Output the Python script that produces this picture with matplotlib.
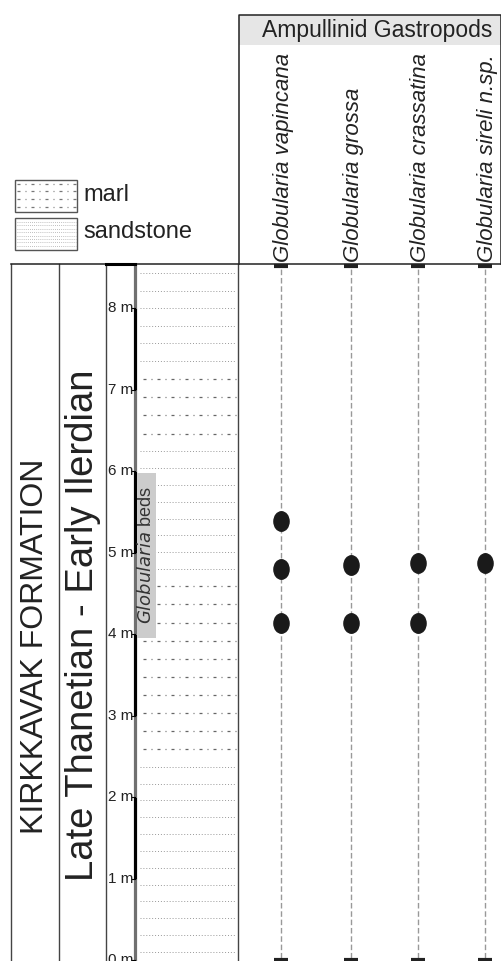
import numpy as np
import matplotlib
matplotlib.use("Agg")
import matplotlib.pyplot as plt
from matplotlib.path import Path
from matplotlib.transforms import Affine2D
from matplotlib.patches import Rectangle

plt.rcParams['font.family'] = ['Liberation Sans', 'DejaVu Sans']

# ---------------- data ----------------
group_title = "Ampullinid Gastropods"
species = ["Globularia vapincana", "Globularia grossa",
           "Globularia crassatina", "Globularia sireli n.sp."]
occ_vapincana = [5.39, 4.80, 4.14]
occ_grossa = [4.85, 4.14]
occ_crassatina = [4.88, 4.14]
occ_sireli = [4.88]
occurrences = [occ_vapincana, occ_grossa, occ_crassatina, occ_sireli]

depth_ticks = [0, 1, 2, 3, 4, 5, 6, 7, 8]
depth_labels = [f"{d} m" for d in depth_ticks]

# lithology units: bottom (m), top (m), kind
lith_bottom = [0.0, 2.48, 4.70, 6.35, 7.25]
lith_top = [2.48, 4.70, 6.35, 7.25, 8.54]
lith_kind = ["sandstone", "marl", "sandstone", "marl", "sandstone"]

beds_bottom, beds_top = 3.96, 5.98
formation = "KIRKKAVAK FORMATION"
stage = "Late Thanetian - Early Ilerdian"

# ---------------- layout ----------------
W, H = 502, 961
ZERO_PX, PX_PER_M = 960.4, 81.5
TOP_PX = 264
def px2m(p):
    return (ZERO_PX - p) / PX_PER_M

fig = plt.figure(figsize=(W / 100, H / 100), dpi=100)
ax = fig.add_axes([0, 0, 1, (H - TOP_PX) / H])
ax.set_xlim(0, W)
ax.set_ylim(px2m(H), px2m(TOP_PX))
ax.axis('off')

hx = fig.add_axes([0, (H - TOP_PX) / H, 1, TOP_PX / H])
hx.set_xlim(0, W)
hx.set_ylim(TOP_PX, 0)
hx.axis('off')

ytop = px2m(TOP_PX)
ybot = px2m(H + 2)
col_x = [281, 351, 418, 485]

# ---- header box ----
hx.add_patch(Rectangle((239, 15), 262, 30, facecolor='#e6e6e6', edgecolor='none'))
hx.plot([239, 239, 501, 501], [TOP_PX, 15, 15, TOP_PX], color='#222222', lw=1.1, clip_on=False)
hx.text(377, 31, group_title, ha='center', va='center', fontsize=16.5, color='#222222')
for x, name in zip(col_x, species):
    hx.text(x + 3, 262, name, rotation=90, ha='center', va='bottom',
            fontsize=16, style='italic', color='#222222')

# ---- legend ----
hx.add_patch(Rectangle((15, 180), 62, 32, facecolor='white', edgecolor='#555555', lw=1.0))
hx.add_patch(Rectangle((15, 218), 62, 32, facecolor='white', edgecolor='#555555', lw=1.0))
for yy in [184, 191, 199, 207]:
    hx.plot([17, 76], [yy, yy], color='#777777', lw=0.9, linestyle=(0, (2.4, 4, 0.8, 4)))
for yy in np.arange(222, 249, 3.4):
    hx.plot([17, 76], [yy, yy], color='#aaaaaa', lw=0.6, linestyle=(0, (1, 1.5)))
hx.text(83, 195, "marl", ha='left', va='center', fontsize=17, color='#222222')
hx.text(83, 232, "sandstone", ha='left', va='center', fontsize=17, color='#222222')

# ---- frame lines for lower section ----
hx.plot([11, 501], [TOP_PX, TOP_PX], color='#222222', lw=1.1, clip_on=False)
hx.plot([106, 135], [TOP_PX, TOP_PX], color='black', lw=2.2, clip_on=False)
for x in [11, 59, 106, 238]:
    ax.plot([x, x], [ybot, ytop], color='#444444', lw=1.0, clip_on=False)

# ---- lithology patterns ----
for b, t, k in zip(lith_bottom, lith_top, lith_kind):
    if k == "sandstone":
        n = max(1, int(round((t - b) / 0.2)))
        ys = np.linspace(b + (t - b) / (2 * n), t - (t - b) / (2 * n), n)
        for yy in ys:
            ax.plot([140, 236], [yy, yy], color='#999999', lw=0.7,
                    linestyle=(0, (1, 2)))
    else:
        n = max(1, int(round((t - b) / 0.22)))
        ys = np.linspace(b + (t - b) / (2 * n), t - (t - b) / (2 * n), n)
        for yy in ys:
            ax.plot([143, 236], [yy, yy], color='#666666', lw=0.9,
                    linestyle=(0, (2.4, 4, 0.8, 4)))

# ---- Globularia beds ----
ax.add_patch(Rectangle((137, beds_bottom), 19, beds_top - beds_bottom,
                       facecolor='#cccccc', edgecolor='none', zorder=3))
ax.text(146.5, (beds_bottom + beds_top) / 2, r"$\it{Globularia}$ beds", rotation=90,
        ha='center', va='center', fontsize=13, color='#333333', zorder=4)

# ---- scale bar ----
edges = [ybot] + depth_ticks[1:] + [ytop]
for i in range(len(edges) - 1):
    c = 'black' if i % 2 == 1 else '#707070'
    ax.plot([135, 135], [edges[i], edges[i + 1]], color=c, lw=2.3,
            solid_capstyle='butt', clip_on=False, zorder=2)
for d, lab in zip(depth_ticks, depth_labels):
    ax.plot([132, 135], [d, d], color='black', lw=0.8, clip_on=False)
    ax.text(133, d, lab, ha='right', va='center', fontsize=11, color='#222222', clip_on=False)

# ---- formation / stage ----
ax.text(35, px2m(646), formation, rotation=90, ha='center', va='center',
        fontsize=23, color='#222222')
ax.text(83, px2m(625), stage, rotation=90, ha='center', va='center',
        fontsize=27.5, color='#222222')

# ---- range lines & occurrences ----
ell = Path.unit_circle().transformed(Affine2D().scale(0.78, 1.0))
for x, occ in zip(col_x, occurrences):
    ax.plot([x, x], [px2m(958), px2m(267)], color='#999999', lw=1.0,
            linestyle=(0, (4, 2)), zorder=2)
    ax.plot([x - 7, x + 7], [px2m(266), px2m(266)], color='#222222', lw=3,
            solid_capstyle='butt', clip_on=False, zorder=3)
    ax.plot([x - 7, x + 7], [px2m(960), px2m(960)], color='#222222', lw=3,
            solid_capstyle='butt', clip_on=False, zorder=3)
    ax.plot([x] * len(occ), occ, linestyle='none', marker=ell, markersize=14,
            color='#1a1a1a', zorder=5)

fig.savefig("out.png", dpi=100)
